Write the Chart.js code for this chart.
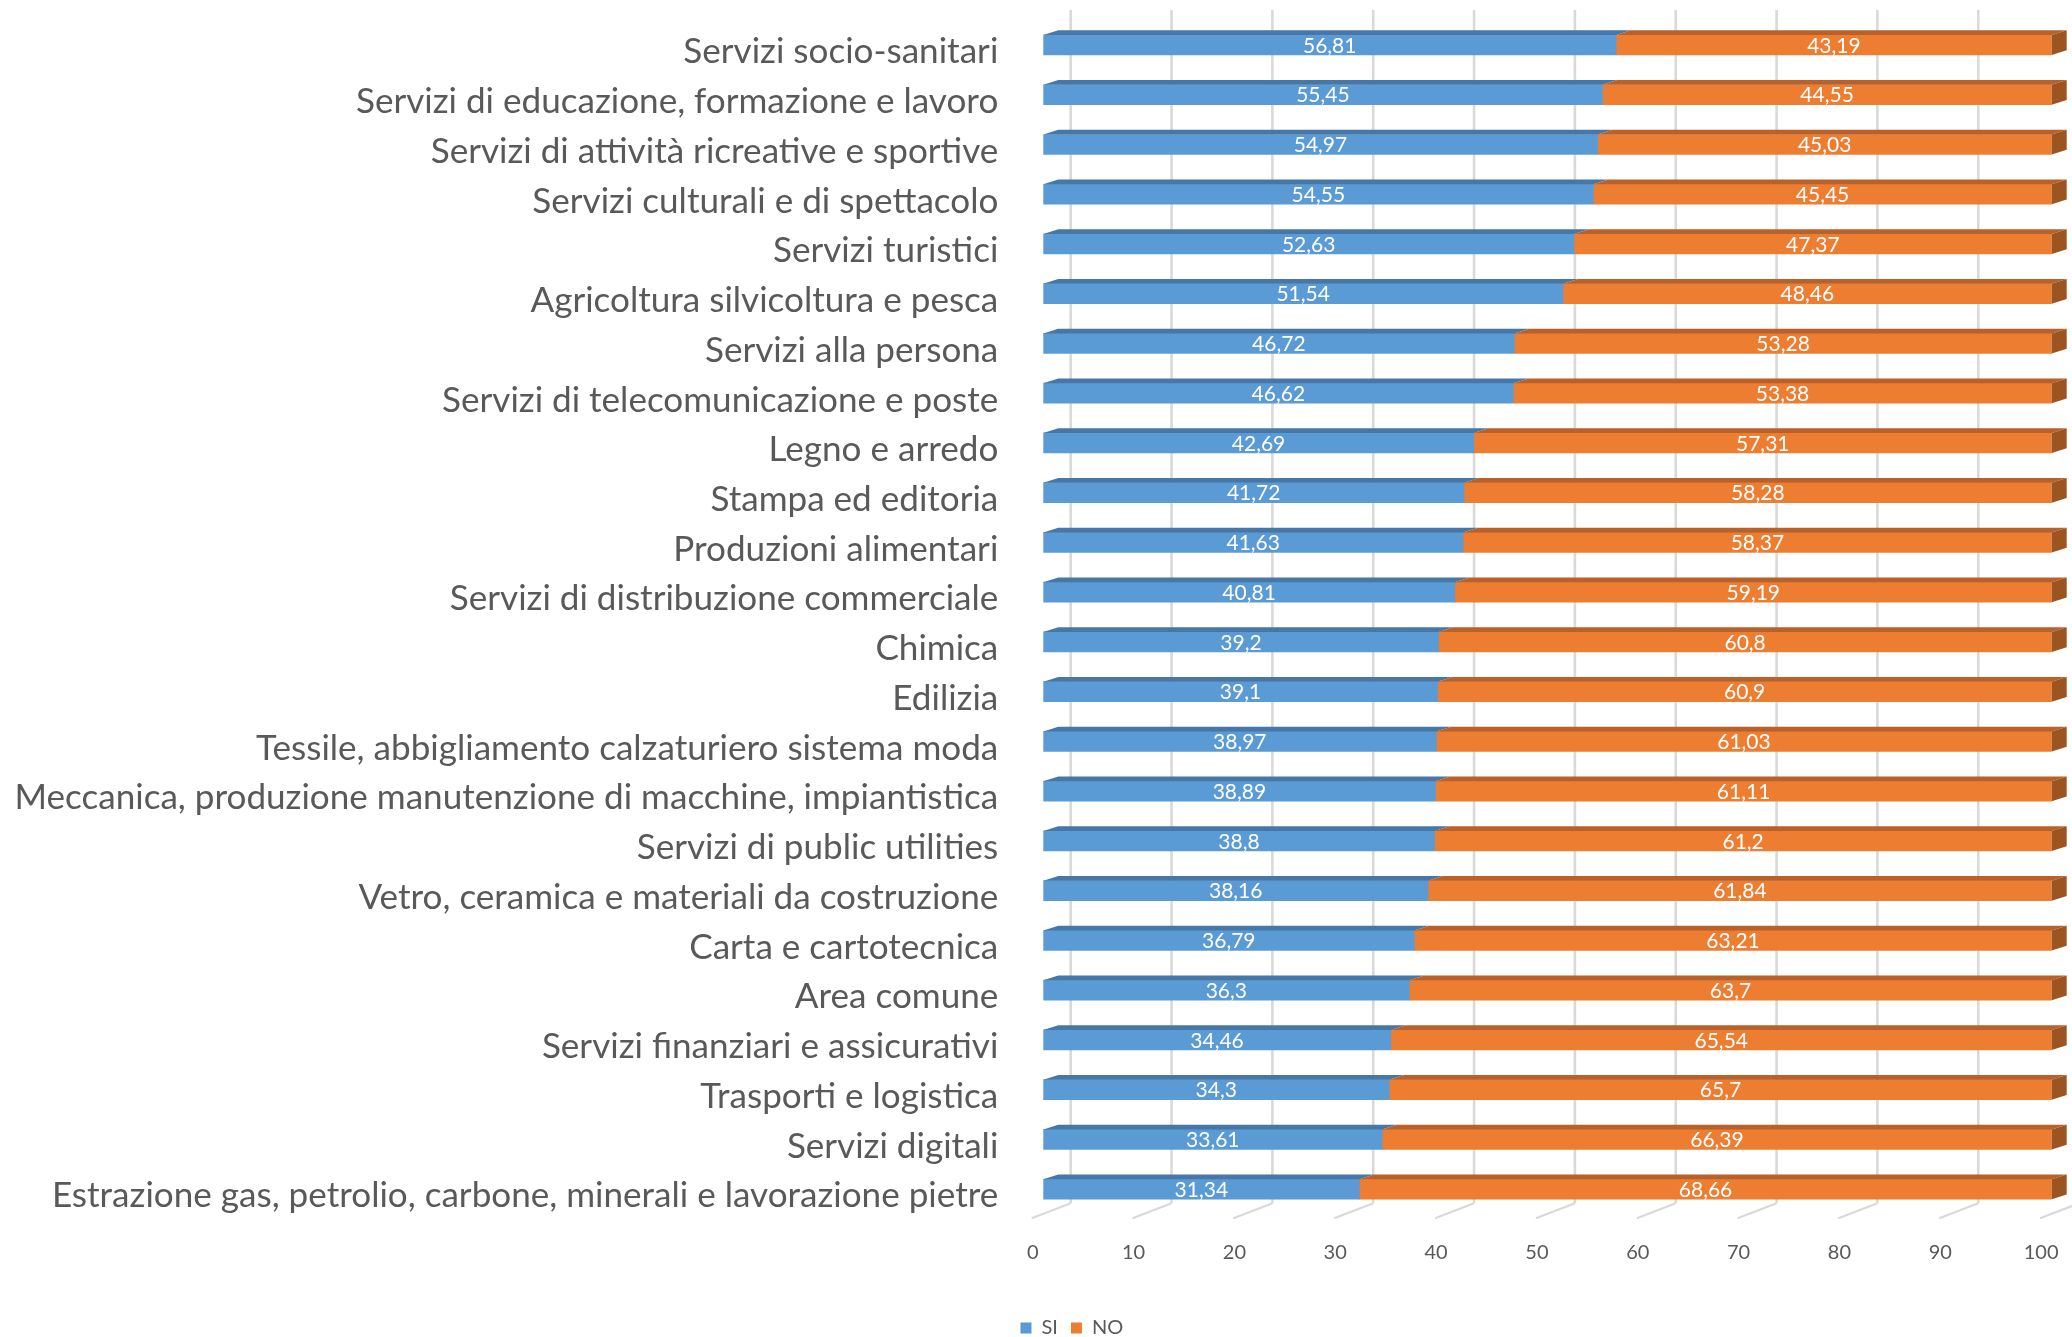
<!DOCTYPE html>
<html>
<head>
<meta charset="utf-8">
<script src="https://cdn.jsdelivr.net/npm/chart.js@4.4.1/dist/chart.umd.min.js"></script>
<style>
  html, body { margin: 0; padding: 0; background: #fff; }
  #wrap { width: 2072px; height: 1337px; position: relative; }
</style>
</head>
<body>
<div id="wrap"><canvas id="chart"></canvas></div>
<script>
// categories, top to bottom
const categories = [
    "Servizi socio-sanitari",
    "Servizi di educazione, formazione e lavoro",
    "Servizi di attività ricreative e sportive",
    "Servizi culturali e di spettacolo",
    "Servizi turistici",
    "Agricoltura silvicoltura e pesca",
    "Servizi alla persona",
    "Servizi di telecomunicazione e poste",
    "Legno e arredo",
    "Stampa ed editoria",
    "Produzioni alimentari",
    "Servizi di distribuzione commerciale",
    "Chimica",
    "Edilizia",
    "Tessile, abbigliamento calzaturiero sistema moda",
    "Meccanica, produzione manutenzione di macchine, impiantistica",
    "Servizi di public utilities",
    "Vetro, ceramica e materiali da costruzione",
    "Carta e cartotecnica",
    "Area comune",
    "Servizi finanziari e assicurativi",
    "Trasporti e logistica",
    "Servizi digitali",
    "Estrazione gas, petrolio, carbone, minerali e lavorazione pietre"
];
const siValues = [56.81, 55.45, 54.97, 54.55, 52.63, 51.54, 46.72, 46.62, 42.69, 41.72, 41.63, 40.81,
                  39.2, 39.1, 38.97, 38.89, 38.8, 38.16, 36.79, 36.3, 34.46, 34.3, 33.61, 31.34];
const noValues = [43.19, 44.55, 45.03, 45.45, 47.37, 48.46, 53.28, 53.38, 57.31, 58.28, 58.37, 59.19,
                  60.8, 60.9, 61.03, 61.11, 61.2, 61.84, 63.21, 63.7, 65.54, 65.7, 66.39, 68.66];
const seriesNames = ["SI", "NO"];
const axisMin = 0, axisMax = 100, axisStep = 10;

const TEXT_GREY = "#595959";
const FONT = "Lato";

// size the category font so the longest line matches the original width
function fitLabelSize() {
    const c = document.createElement("canvas").getContext("2d");
    c.font = "100px " + FONT;
    const w = c.measureText(categories[categories.length - 1]).width;
    return Math.round(100 * 948 / w * 10) / 10;
}
const labelSize = fitLabelSize();

// 3D look: bar depth, back wall and floor offsets
const BAR_DX = 15, BAR_DY = -4.7;
const WALL_DX = 27.4;
const FLOOR_DX = -39, FLOOR_DY = 15;

const faceColors = [
    { top: "#4677A6", side: "#3D6890" },
    { top: "#B8612A", side: "#9C5420" }
];

const threeD = {
    id: "threeD",
    afterLayout(chart) {
        // legend sits a bit right of and below the default centred spot
        const lg = chart.legend;
        if (lg) {
            lg.left += 46; lg.right += 46;
            lg.top += 11; lg.bottom += 11;
        }
    },
    beforeDatasetsDraw(chart) {
        const ctx = chart.ctx;
        const area = chart.chartArea;
        const xs = chart.scales.x;
        ctx.save();
        ctx.strokeStyle = "#D9D9D9";
        for (let v = axisMin; v <= axisMax; v += axisStep) {
            const x = xs.getPixelForValue(v) + WALL_DX;
            const yTop = area.top - 10;
            const yBot = area.bottom - 10.7;
            ctx.lineWidth = 2.6;
            ctx.beginPath();
            ctx.moveTo(x, yTop);
            ctx.lineTo(x, yBot);
            ctx.stroke();
            ctx.lineWidth = 2.2;
            ctx.beginPath();
            ctx.moveTo(x, yBot);
            ctx.lineTo(x + FLOOR_DX, yBot + FLOOR_DY);
            ctx.stroke();
        }
        ctx.restore();
    },
    afterDatasetsDraw(chart) {
        const ctx = chart.ctx;
        ctx.save();
        const last = chart.data.datasets.length - 1;
        chart.data.datasets.forEach((ds, di) => {
            const meta = chart.getDatasetMeta(di);
            meta.data.forEach(el => {
                const { x, y, base, height } = el.getProps(["x", "y", "base", "height"], true);
                const top = y - height / 2;
                const bot = y + height / 2;
                // top face
                ctx.fillStyle = faceColors[di].top;
                ctx.beginPath();
                ctx.moveTo(base, top);
                ctx.lineTo(x, top);
                ctx.lineTo(x + BAR_DX, top + BAR_DY);
                ctx.lineTo(base + BAR_DX, top + BAR_DY);
                ctx.closePath();
                ctx.fill();
                // right side face only on the outer segment
                if (di === last) {
                    ctx.fillStyle = faceColors[di].side;
                    ctx.beginPath();
                    ctx.moveTo(x, top);
                    ctx.lineTo(x + BAR_DX, top + BAR_DY);
                    ctx.lineTo(x + BAR_DX, bot + BAR_DY);
                    ctx.lineTo(x, bot);
                    ctx.closePath();
                    ctx.fill();
                }
            });
        });
        // value labels
        ctx.fillStyle = "#FFFFFF";
        ctx.font = "21px " + FONT;
        ctx.textAlign = "center";
        ctx.textBaseline = "middle";
        chart.data.datasets.forEach((ds, di) => {
            const meta = chart.getDatasetMeta(di);
            meta.data.forEach((el, i) => {
                const { x, y, base } = el.getProps(["x", "y", "base"], true);
                const txt = String(ds.data[i]).replace(".", ",");
                ctx.fillText(txt, (x + base) / 2, y + 1);
            });
        });
        ctx.restore();
    }
};

const chartLeft = 1043.3;
const plotBottom = 1214;
const legendPad = 13;
const legendHeight = 20 + legendPad + 10;

new Chart(document.getElementById("chart"), {
    type: "bar",
    data: {
        labels: categories,
        datasets: [
            { label: seriesNames[0], data: siValues, backgroundColor: "#5B9BD5", borderWidth: 0, barThickness: 20 },
            { label: seriesNames[1], data: noValues, backgroundColor: "#ED7D31", borderWidth: 0, barThickness: 20 }
        ]
    },
    options: {
        indexAxis: "y",
        responsive: true,
        maintainAspectRatio: false,
        animation: false,
        layout: { padding: { top: 20.1, left: 0, right: 2072 - 2051.7, bottom: 0 } },
        plugins: {
            legend: {
                position: "bottom",
                labels: {
                    color: TEXT_GREY,
                    font: { family: FONT, size: 20 },
                    boxWidth: 11,
                    boxHeight: 11,
                    padding: legendPad
                }
            },
            tooltip: { enabled: false }
        },
        scales: {
            x: {
                stacked: true,
                min: axisMin,
                max: axisMax,
                grid: { display: false, drawTicks: false },
                border: { display: false },
                ticks: {
                    stepSize: axisStep,
                    color: TEXT_GREY,
                    font: { family: FONT, size: 20 },
                    padding: 27,
                    labelOffset: -10.6,
                    maxRotation: 0
                },
                afterFit(scale) {
                    scale.height = 1337 - plotBottom - legendHeight;
                    scale.paddingLeft = 0;
                    scale.paddingRight = 0;
                }
            },
            y: {
                stacked: true,
                grid: { display: false, drawTicks: false },
                border: { display: false },
                ticks: {
                    color: TEXT_GREY,
                    font: { family: FONT, size: labelSize },
                    padding: 45,
                    labelOffset: 7,
                    autoSkip: false
                },
                afterFit(scale) {
                    scale.width = chartLeft;
                    scale.paddingTop = 0;
                    scale.paddingBottom = 0;
                }
            }
        }
    },
    plugins: [threeD]
});
</script>
</body>
</html>
